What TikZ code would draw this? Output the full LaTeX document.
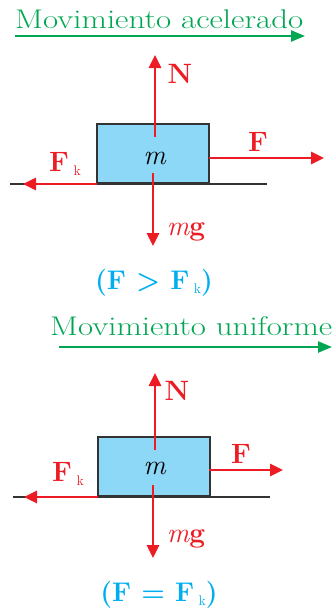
\documentclass[tikz,border=0pt]{standalone}
\usepackage{fontspec}
\setmainfont{Latin Modern Roman}
\usetikzlibrary{arrows.meta}
\definecolor{fred}{HTML}{ED1C24}
\definecolor{mgreen}{HTML}{00A651}
\definecolor{ccyan}{HTML}{00AEEF}
\definecolor{boxblue}{HTML}{8DD7F7}
\definecolor{edgegray}{HTML}{333333}
\tikzset{
  force/.style={draw=fred, line width=2.6pt, -{Triangle[length=13pt,width=12pt]}},
  motion/.style={draw=mgreen, line width=2.4pt, -{Triangle[length=14pt,width=11pt]}},
  ground/.style={draw=edgegray, line width=2pt},
  blockbox/.style={draw=edgegray, fill=boxblue, line width=2pt, minimum width=112pt, minimum height=59pt, inner sep=0pt},
  lab/.style={text=fred, font=\fontsize{28}{32}\selectfont\bfseries, inner sep=0pt},
  title/.style={text=mgreen, font=\fontsize{27}{30}\selectfont, inner sep=0pt},
  cond/.style={text=ccyan, font=\fontsize{27}{30}\selectfont\bfseries, inner sep=0pt},
  mass/.style={text=black, font=\fontsize{28}{30}\selectfont, inner sep=0pt}
}
\newcommand{\subk}{\raisebox{-4pt}{\mdseries\fontsize{14}{16}\selectfont k}}
\begin{document}
\begin{tikzpicture}[x=1pt,y=-1pt]
\useasboundingbox (0,0) rectangle (333,614);
% ---------- top panel ----------
\node[title, anchor=base west] (t1) at (15,28) {\resizebox{288pt}{\height}{Movimiento acelerado}};
\coordinate (a1s) at (15,36);
\coordinate (a1e) at (305,36);
\draw[motion] (a1s) -- (a1e);
\node[blockbox] (b1) at (153,153.5) {};
\node[mass] (m1) at (155,158) {\textit{m}};
\draw[ground] (10,184) coordinate (g1a) -- (267,184) coordinate (g1b);
\coordinate (n1s) at (155,137);
\coordinate (n1e) at (155,55);
\draw[force] (n1s) -- (n1e);
\node[lab] (N1) at (180,74) {N};
\coordinate (f1s) at (209,158);
\coordinate (f1e) at (324,158);
\draw[force] (f1s) -- (f1e);
\node[lab] (F1) at (258,142) {F};
\coordinate (k1s) at (97,184);
\coordinate (k1e) at (23,184);
\draw[force] (k1s) -- (k1e);
\node[lab] (K1) at (65,164) {F\,\subk};
\coordinate (w1s) at (153,173);
\coordinate (w1e) at (153,246);
\draw[force] (w1s) -- (w1e);
\node[lab] (W1) at (186,232) {{\mdseries\itshape m}g};
\node[cond] (c1) at (154,283) {(F > F\,\subk)};
% ---------- bottom panel ----------
\node[title, anchor=base west] (t2) at (50,335) {\resizebox{282pt}{\height}{Movimiento uniforme}};
\coordinate (a2s) at (59,347);
\coordinate (a2e) at (332,347);
\draw[motion] (a2s) -- (a2e);
\node[blockbox] (b2) at (153.5,466.5) {};
\node[mass] (m2) at (155,468) {\textit{m}};
\draw[ground] (13,497) coordinate (g2a) -- (270,497) coordinate (g2b);
\coordinate (n2s) at (155,450);
\coordinate (n2e) at (155,373);
\draw[force] (n2s) -- (n2e);
\node[lab] (N2) at (177,391) {N};
\coordinate (f2s) at (209,470);
\coordinate (f2e) at (283,470);
\draw[force] (f2s) -- (f2e);
\node[lab] (F2) at (241,454) {F};
\coordinate (k2s) at (98,497);
\coordinate (k2e) at (24,497);
\draw[force] (k2s) -- (k2e);
\node[lab] (K2) at (68,474) {F\,\subk};
\coordinate (w2s) at (153,485);
\coordinate (w2e) at (153,558);
\draw[force] (w2s) -- (w2e);
\node[lab] (W2) at (186,539) {{\mdseries\itshape m}g};
\node[cond] (c2) at (159,595) {(F = F\,\subk)};
\end{tikzpicture}
\end{document}
